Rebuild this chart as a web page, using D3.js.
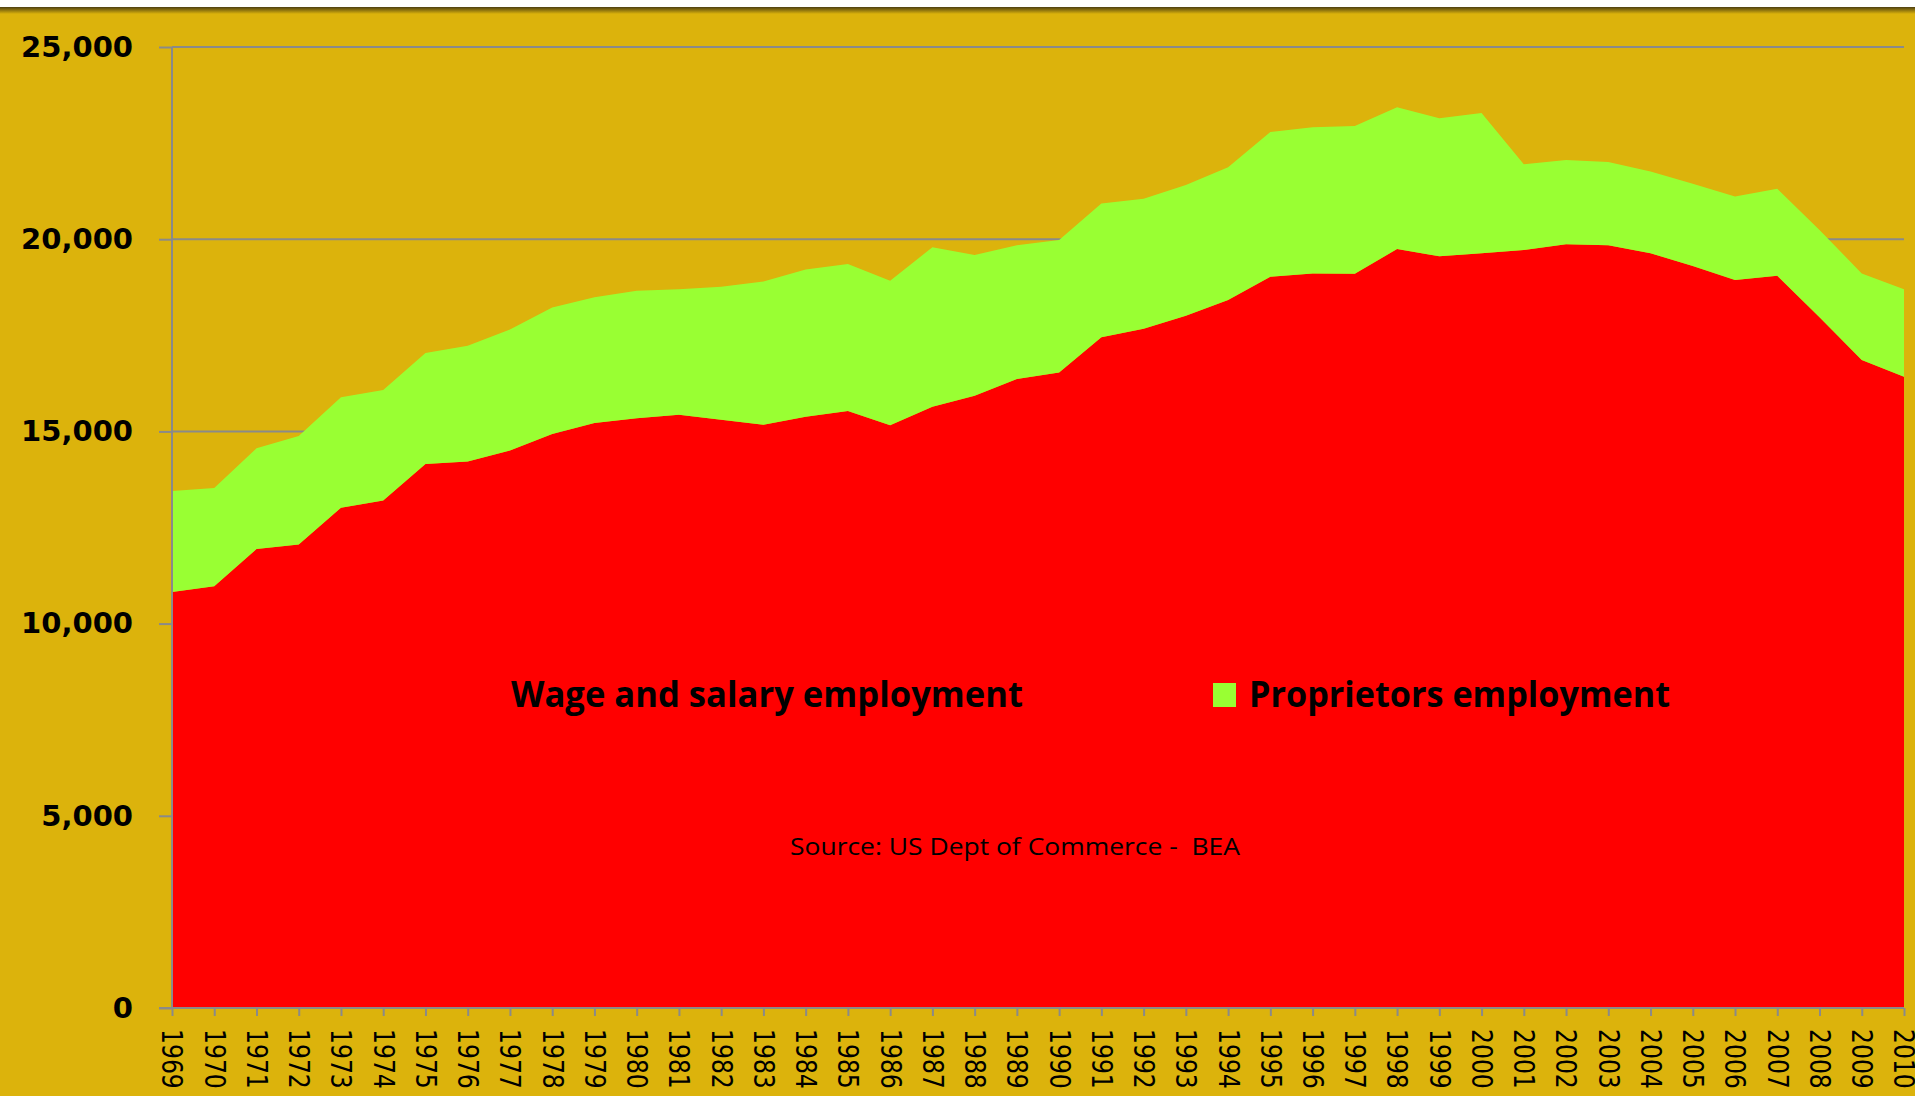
<!DOCTYPE html>
<html>
<head>
<meta charset="utf-8">
<script src="https://cdn.jsdelivr.net/npm/d3@7"></script>
<style>
  body { margin: 0; background: #fff; }
  svg { display: block; }
</style>
</head>
<body>
<div id="chart"></div>
<script>
// data (thousands of jobs)
var years = [1969, 1970, 1971, 1972, 1973, 1974, 1975, 1976, 1977, 1978,
  1979, 1980, 1981, 1982, 1983, 1984, 1985, 1986, 1987, 1988,
  1989, 1990, 1991, 1992, 1993, 1994, 1995, 1996, 1997, 1998,
  1999, 2000, 2001, 2002, 2003, 2004, 2005, 2006, 2007, 2008,
  2009, 2010];

var wageSalary = [10820, 10970, 11940, 12060, 13015, 13200, 14150, 14220, 14500, 14930,
  15220, 15340, 15430, 15300, 15170, 15380, 15530, 15160, 15640, 15930,
  16360, 16530, 17450, 17670, 18010, 18420, 19020, 19110, 19100, 19745,
  19555, 19635, 19720, 19870, 19840, 19635, 19300, 18940, 19050, 17970,
  16860, 16420];

var proprietors = [2630, 2560, 2620, 2820, 2875, 2880, 2890, 3010, 3150, 3290,
  3270, 3320, 3270, 3460, 3730, 3830, 3825, 3760, 4150, 3660,
  3480, 3450, 3480, 3380, 3400, 3450, 3770, 3800, 3845, 3685,
  3590, 3650, 2230, 2190, 2170, 2125, 2140, 2170, 2260, 2270,
  2250, 2280];

var seriesNames = ["Wage and salary employment", "Proprietors employment"];
var seriesColors = ["#ff0000", "#99ff33"];
var yTicks = [0, 5000, 10000, 15000, 20000, 25000];
var sourceText = "Source: US Dept of Commerce -  BEA";

var W = 1915, H = 1096;
var margin = {top: 47, right: 11, bottom: 88, left: 172},
    width = W - margin.left - margin.right,
    height = H - margin.top - margin.bottom;

var svg = d3.select("#chart")
  .append("svg")
    .attr("width", W)
    .attr("height", H);

// background + top shadow band
svg.append("rect").attr("width", W).attr("height", H).attr("fill", "#dcb30c");
var defs = svg.append("defs");
var grad = defs.append("linearGradient").attr("id", "shade")
  .attr("x1", 0).attr("y1", 0).attr("x2", 0).attr("y2", 1);
grad.append("stop").attr("offset", "0%").attr("stop-color", "#4e4010");
grad.append("stop").attr("offset", "100%").attr("stop-color", "#dcb30c");
svg.append("rect").attr("width", W).attr("height", 7).attr("fill", "#fff");
svg.append("rect").attr("y", 7).attr("width", W).attr("height", 7).attr("fill", "url(#shade)");

var g = svg.append("g")
  .attr("transform", "translate(" + margin.left + "," + margin.top + ")");

var x = d3.scaleLinear()
  .domain([years[0], years[years.length - 1]])
  .range([0, width]);

var y = d3.scaleLinear()
  .domain([0, 25000])
  .range([height, 0]);

// gridlines (behind areas)
g.append("g")
  .selectAll("line")
  .data(yTicks.filter(function(d) { return d > 0; }))
  .enter().append("line")
    .attr("x1", 0)
    .attr("x2", width)
    .attr("y1", function(d) { return y(d); })
    .attr("y2", function(d) { return y(d); })
    .attr("stroke", "#8a8a8a")
    .attr("stroke-width", 2);

// stacked areas
var table = years.map(function(yr, i) {
  var row = {year: yr};
  row[seriesNames[0]] = wageSalary[i];
  row[seriesNames[1]] = proprietors[i];
  return row;
});
var stacked = d3.stack().keys(seriesNames)(table);

g.selectAll(".layer")
  .data(stacked)
  .enter().append("path")
    .attr("class", "layer")
    .attr("fill", function(d, i) { return seriesColors[i]; })
    .attr("d", d3.area()
      .x(function(d) { return x(d.data.year); })
      .y0(function(d) { return y(d[0]); })
      .y1(function(d) { return y(d[1]); }));

// y axis
var yAxis = g.append("g")
  .call(d3.axisLeft(y).tickValues(yTicks).tickSize(13).tickPadding(26)
    .tickFormat(d3.format(",")));
yAxis.select(".domain").remove();
yAxis.selectAll(".tick line").attr("stroke", "#8a8a8a").attr("stroke-width", 2);
yAxis.selectAll("text")
  .attr("font-family", "DejaVu Sans, sans-serif")
  .attr("font-weight", "bold")
  .attr("font-size", 29)
  .attr("fill", "#000");
g.append("line")
  .attr("x1", 0).attr("x2", 0).attr("y1", 0).attr("y2", height)
  .attr("stroke", "#8a8a8a").attr("stroke-width", 2);

// x axis
var xAxis = g.append("g")
  .attr("transform", "translate(0," + height + ")")
  .call(d3.axisBottom(x).tickValues(years).tickSize(8).tickFormat(d3.format("d")));
xAxis.select(".domain").remove();
xAxis.selectAll(".tick line").attr("stroke", "#8a8a8a").attr("stroke-width", 2);
xAxis.selectAll("text")
  .attr("y", 0)
  .attr("x", 0)
  .attr("dy", "0.36em")
  .attr("transform", "translate(0,21) rotate(90) scale(0.84,1)")
  .style("text-anchor", "start")
  .attr("font-family", "DejaVu Sans, sans-serif")
  .attr("font-size", 28)
  .attr("fill", "#000");
g.append("line")
  .attr("x1", -13).attr("x2", width).attr("y1", height).attr("y2", height)
  .attr("stroke", "#8a8a8a").attr("stroke-width", 2);

// legend
var legendX = [339, 1077], legendW = [512, 421];
var legend = g.selectAll(".legend")
  .data(seriesNames)
  .enter().append("g")
    .attr("class", "legend")
    .attr("transform", function(d, i) { return "translate(" + legendX[i] + "," + 636 + ")"; });
legend.append("rect")
  .attr("x", -36).attr("y", 0).attr("width", 23).attr("height", 24)
  .attr("fill", function(d, i) { return seriesColors[i]; });
legend.append("text")
  .attr("x", 0).attr("y", 23.5)
  .attr("font-family", "Open Sans, sans-serif")
  .attr("font-weight", "bold")
  .attr("font-size", 35)
  .attr("textLength", function(d, i) { return legendW[i]; })
  .attr("lengthAdjust", "spacingAndGlyphs")
  .attr("fill", "#000")
  .text(function(d) { return d; });

// source note
g.append("text")
  .attr("x", 618).attr("y", 808)
  .attr("font-family", "Open Sans, sans-serif")
  .attr("font-size", 24)
  .attr("textLength", 450)
  .attr("lengthAdjust", "spacingAndGlyphs")
  .attr("fill", "#000")
  .style("white-space", "pre")
  .text(sourceText);
</script>
</body>
</html>
